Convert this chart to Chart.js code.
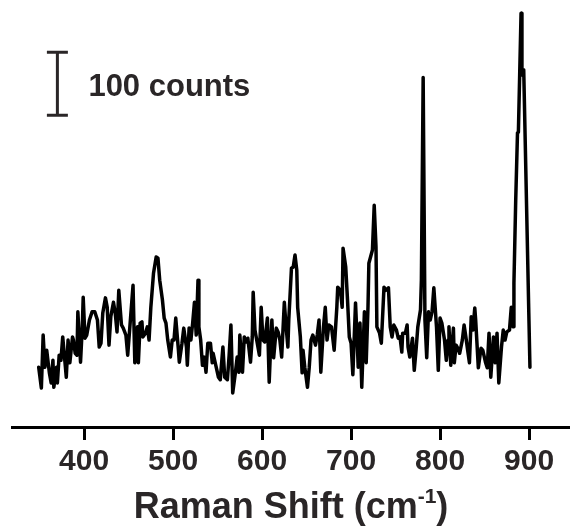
<!DOCTYPE html>
<html>
<head>
<meta charset="utf-8">
<script src="https://cdn.jsdelivr.net/npm/chart.js@4.4.1/dist/chart.umd.min.js"></script>
<style>
  html, body { margin: 0; padding: 0; background: #fff; }
  #wrap { width: 570px; height: 526px; }
</style>
</head>
<body>
<div id="wrap"><canvas id="grafico"></canvas></div>
<script>
// Spectrum (Raman shift in cm-1, intensity in counts)
const shift = [
  349,352,354,356,358,361,363,365,366,369,
  370,372,374,376,379,380,382,384,387,388,
  390,392,393,396,398,399,401,403,406,409,
  412,415,417,419,421,424,426,428,430,433,
  435,437,439,442,444,447,449,455,457,460,
  461,463,465,466,469,471,473,475,478,481,
  483,485,488,490,492,494,497,499,501,503,
  506,507,510,512,515,516,518,520,522,524,
  526,528,529,531,533,535,537,539,542,544,
  545,548,551,553,556,558,561,563,565,567,
  570,572,574,575,578,580,582,584,587,589,
  590,592,594,597,599,601,603,606,608,610,
  611,613,616,618,620,622,625,627,629,630,
  633,635,637,639,640,643,645,646,648,651,
  653,655,657,660,662,664,666,669,671,673,
  675,678,681,684,685,688,690,691,694,696,
  698,700,702,705,707,708,710,712,715,717,
  719,720,724,726,728,729,732,734,737,739,
  742,744,746,748,751,753,755,757,758,761,
  763,764,766,769,771,773,775,778,779,781,
  783,785,787,789,791,793,796,798,800,802,
  805,807,809,810,812,815,816,818,820,822,
  825,827,829,831,833,835,837,839,840,843,
  846,848,851,853,855,857,860,862,864,866,
  869,871,873,875,878,880,882,883,885,887,
  888,891,892,894,901
];
const counts = [
  95,62,146,95,122,86,70,106,63,95,
  70,114,106,143,95,79,138,102,143,138,
  117,114,183,103,159,206,141,146,170,183,
  183,170,127,133,181,205,190,130,175,198,
  181,151,217,162,157,146,114,225,102,159,
  102,165,167,143,149,159,138,190,244,270,
  268,233,202,173,165,138,111,138,138,173,
  122,103,133,157,127,98,157,138,165,198,
  146,233,159,138,98,111,87,133,133,102,
  117,98,79,75,127,79,75,114,162,54,
  86,111,87,146,87,143,135,141,103,143,
  214,154,138,114,190,138,135,173,71,141,
  170,110,157,151,138,111,198,159,127,170,
  252,254,273,249,190,143,86,122,95,63,
  95,138,146,130,146,170,87,159,190,138,
  162,159,122,190,222,217,190,284,254,202,
  143,133,83,197,133,95,165,63,183,102,
  190,260,281,352,286,159,149,133,222,217,
  221,159,143,162,154,141,143,119,149,149,
  162,127,111,141,90,122,159,186,233,555,
  170,110,183,170,183,221,159,90,173,165,
  138,106,138,159,98,157,102,130,125,117,
  138,162,143,122,102,175,154,189,170,94,
  125,122,103,94,149,79,143,102,149,70,
  127,154,138,151,154,190,159,229,360,467,
  468,657,559,567,95
];

// Axis
const tickValues = [400, 500, 600, 700, 800, 900];
const xMin = 319, xMax = 946;
const yMin = 0, yMax = 678;

// Scale bar (100 counts)
const barShift = 370;
const barBottom = 495;
const barCounts = 100;
const barLabel = "100 counts";

// Axis title
const titleMain = "Raman Shift (cm";
const titleSup = "-1";
const titleEnd = ")";

const ink = "#2a2627";
const fontFamily = '"Liberation Sans", Arial, sans-serif';

const points = shift.map((s, i) => ({ x: s, y: counts[i] }));

// Scale bar, its label and the axis title with superscript
const extras = {
  id: "extras",
  afterDraw(chart) {
    const { ctx, scales, chartArea } = chart;
    const x = scales.x, y = scales.y;
    const px = x.getPixelForValue(barShift);
    const y0 = y.getPixelForValue(barBottom);
    const y1 = y.getPixelForValue(barBottom + barCounts);
    ctx.save();
    ctx.strokeStyle = ink;
    ctx.lineWidth = 3;
    ctx.beginPath();
    ctx.moveTo(px, y0); ctx.lineTo(px, y1);
    ctx.moveTo(px - 10.5, y0); ctx.lineTo(px + 10.5, y0);
    ctx.moveTo(px - 10.5, y1); ctx.lineTo(px + 10.5, y1);
    ctx.stroke();

    ctx.fillStyle = ink;
    ctx.textBaseline = "alphabetic";
    ctx.textAlign = "left";
    ctx.font = "bold 31px " + fontFamily;
    ctx.fillText(barLabel, px + 31, (y0 + y1) / 2 + 12);

    // title
    const big = "bold 36px " + fontFamily;
    const small = "bold 21px " + fontFamily;
    ctx.font = big;
    const w1 = ctx.measureText(titleMain).width;
    const w3 = ctx.measureText(titleEnd).width;
    ctx.font = small;
    const w2 = ctx.measureText(titleSup).width;
    const cx = (chartArea.left + chartArea.right) / 2;
    let tx = cx - (w1 + w2 + w3) / 2;
    const base = 518;
    ctx.font = big;
    ctx.fillText(titleMain, tx, base);
    tx += w1;
    ctx.font = small;
    ctx.fillText(titleSup, tx, base - 15);
    tx += w2;
    ctx.font = big;
    ctx.fillText(titleEnd, tx, base);
    ctx.restore();
  }
};

new Chart(document.getElementById("grafico"), {
  type: "line",
  data: {
    datasets: [{
      data: points,
      borderColor: "#000",
      borderWidth: 3.5,
      borderJoinStyle: "round",
      borderCapStyle: "round",
      pointRadius: 0,
      tension: 0,
      fill: false
    }]
  },
  options: {
    responsive: true,
    maintainAspectRatio: false,
    animation: false,
    devicePixelRatio: 1,
    layout: { padding: { left: 12, right: 0, top: 0, bottom: 42 } },
    plugins: { legend: { display: false }, tooltip: { enabled: false } },
    scales: {
      x: {
        type: "linear",
        min: xMin,
        max: xMax,
        afterBuildTicks: axis => { axis.ticks = tickValues.map(v => ({ value: v })); },
        border: { display: true, color: "#000", width: 3 },
        grid: { display: true, drawOnChartArea: false, drawTicks: true, tickLength: 13, tickWidth: 3, tickColor: "#000" },
        ticks: {
          padding: 4,
          color: ink,
          maxRotation: 0,
          font: { family: fontFamily, size: 30, weight: "bold" }
        }
      },
      y: {
        display: false,
        min: yMin,
        max: yMax
      }
    }
  },
  plugins: [extras]
});
</script>
</body>
</html>
